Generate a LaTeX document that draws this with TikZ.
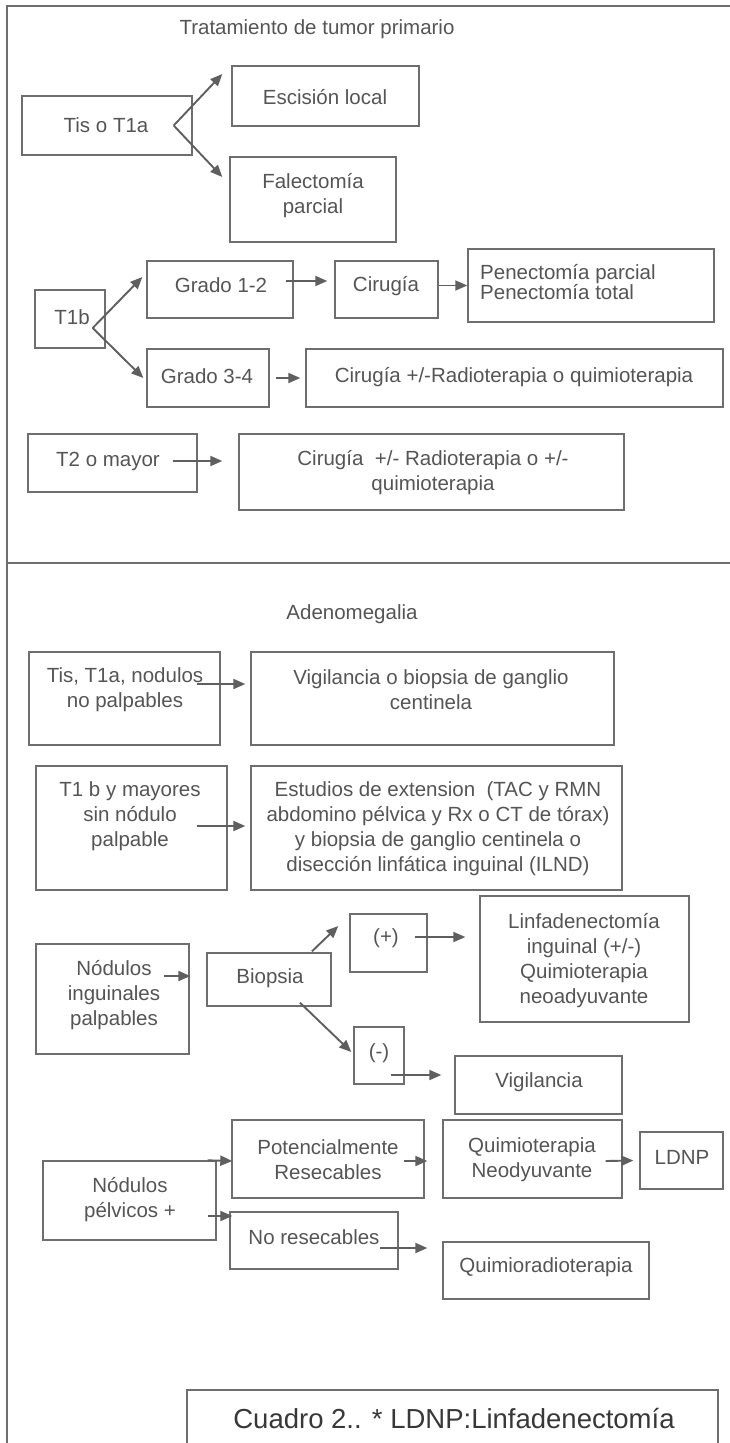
\documentclass[tikz,border=0pt]{standalone}
\usepackage{fontspec}
\setmainfont{Liberation Sans}
\usetikzlibrary{arrows.meta}
\definecolor{lc}{RGB}{110,110,110}
\definecolor{ac}{RGB}{95,95,95}
\definecolor{tc}{RGB}{85,85,85}
\newcommand{\fs}{\fontsize{20.5}{25}\selectfont}
\newcommand{\bx}[5]{\node[box, minimum width={(#4-#2)*1pt}, minimum height={(#5-#3)*1pt}] (#1) at ({(#2+#4)/2},{(#3+#5)/2}) {};}
\begin{document}
\begin{tikzpicture}[x=1pt,y=-1pt,
  box/.style={draw=lc, line width=1.4pt, inner sep=0pt},
  txt/.style={font=\fs, text=tc, align=center, inner sep=0pt},
  arr/.style={draw=ac, line width=1.9pt, -{Triangle[length=12pt,width=10pt]}},
  frameline/.style={draw=lc, line width=1.4pt}]
\useasboundingbox (0,0) rectangle (730,1443);
\clip (0,0) rectangle (730,1443);
\fill[white] (0,0) rectangle (730,1443);
% frame
\draw[frameline] (731,6) -- (7,6) -- (7,1450);
\draw[frameline] (6,563) -- (731,563);
% ---------- section 1 boxes
\bx{tis}{22}{96}{192}{155}
\bx{esc}{232}{66}{419}{126}
\bx{fal}{230}{157}{396}{242}
\bx{tib}{35}{290}{105}{348}
\bx{g12}{147}{261}{293}{318}
\bx{cir}{335}{261}{438}{318}
\bx{pen}{468}{249}{714}{322}
\bx{g34}{147}{349}{269}{407}
\bx{c34}{306}{349}{723}{407}
\bx{t2}{28}{434}{197}{492}
\bx{ct2}{239}{434}{624}{510}
% ---------- section 2 boxes
\bx{tis2}{29}{652}{220}{745}
\bx{vig}{251}{652}{614}{745}
\bx{tb2}{36}{766}{227}{890}
\bx{est}{251}{766}{622}{890}
\bx{plus}{350}{914}{427}{972}
\bx{linf}{480}{896}{689}{1022}
\bx{nip}{36}{944}{189}{1054}
\bx{bio}{207}{953}{331}{1006}
\bx{minus}{354}{1027}{404}{1084}
\bx{vig2}{455}{1056}{622}{1114}
\bx{pot}{232}{1120}{424}{1198}
\bx{qn}{443}{1120}{622}{1198}
\bx{ldnp}{640}{1132}{723}{1189}
\bx{np}{43}{1161}{216}{1240}
\bx{nores}{230}{1212}{398}{1269}
\bx{qr}{443}{1242}{649}{1299}
\bx{cua}{187}{1390}{718}{1470}
% ---------- texts
\node[txt] (title) at (317,29) {Tratamiento de tumor primario};
\node[txt] (tist) at (106,125) {Tis o T1a};
\node[txt] (esct) at (325,97) {Escisión local};
\node[txt] (falt) at (313,195.5) {Falectomía\\parcial};
\node[txt] (tibt) at (72,317) {T1b};
\node[txt] (g12t) at (221,285) {Grado 1-2};
\node[txt] (cirt) at (386,286) {Cirugía};
\node[txt, align=left, anchor=west, font=\fontsize{20.5}{18}\selectfont] (pent) at (480,282) {Penectomía parcial\\Penectomía total};
\node[txt] (g34t) at (207,376) {Grado 3-4};
\node[txt] (c34t) at (514,377) {Cirugía +/-Radioterapia o quimioterapia};
\node[txt] (t2t) at (108,461) {T2 o mayor};
\node[txt] (ct2t) at (433,473) {Cirugía\ \ +/- Radioterapia o +/-\\quimioterapia};
\node[txt] (adt) at (352,614) {Adenomegalia};
\node[txt] (tis2t) at (125,689.5) {Tis, T1a, nodulos\\no palpables};
\node[txt] (vigt) at (431,689.5) {Vigilancia o biopsia de ganglio\\centinela};
\node[txt] (tb2t) at (130,816) {T1 b y mayores\\sin nódulo\\palpable};
\node[txt] (estt) at (438,828.5) {Estudios de extension\ \ (TAC y RMN\\abdomino pélvica y Rx o CT de tórax)\\y biopsia de ganglio centinela o\\disección linfática inguinal (ILND)};
\node[txt] (plust) at (386,938) {(+)};
\node[txt] (linft) at (584,961) {Linfadenectomía\\inguinal (+/-)\\Quimioterapia\\neoadyuvante};
\node[txt] (nipt) at (114,995) {Nódulos\\inguinales\\palpables};
\node[txt] (biot) at (270,978) {Biopsia};
\node[txt] (minust) at (379,1053) {(-)};
\node[txt] (vig2t) at (539,1082) {Vigilancia};
\node[txt] (pott) at (328,1159.5) {Potencialmente\\Resecables};
\node[txt] (qnt) at (532,1159.5) {Quimioterapia\\Neodyuvante};
\node[txt] (ldnpt) at (682,1157) {LDNP};
\node[txt] (npt) at (130,1199.5) {Nódulos\\pélvicos +};
\node[txt] (norest) at (314,1237) {No resecables};
\node[txt] (qrt) at (546,1267) {Quimioradioterapia};
\node[txt, font=\fontsize{27.5}{32}\selectfont, text=black!78] (cuat) at (454,1418) {Cuadro 2.. * LDNP:Linfadenectomía};
% ---------- connectors
\coordinate (v1) at ([xshift=-19pt]tis.east);
\draw[arr] (v1) -- ([xshift=-9pt,yshift=22pt]esc.west);
\draw[arr] (v1) -- ([xshift=-7pt,yshift=22.5pt]fal.west);
\coordinate (v2) at ([xshift=-13pt,yshift=-9pt]tib.east);
\draw[arr] (v2) -- ([xshift=-4pt,yshift=12.5pt]g12.west);
\draw[arr] (v2) -- ([xshift=-3pt]g34.west);
\draw[arr] ([xshift=-8pt,yshift=8.5pt]g12.east) -- ([xshift=-7pt,yshift=8.5pt]cir.west);
\draw[arr] (cir.east |- pen.west) -- (pen.west);
\draw[arr] ([xshift=6pt]g34.east) -- ([xshift=-5pt]c34.west);
\draw[arr] ([xshift=-25pt,yshift=2pt]t2.east) -- ([xshift=-16pt,yshift=11pt]ct2.west);
\draw[arr] ([xshift=-24pt,yshift=14.5pt]tis2.east) -- ([xshift=-5pt,yshift=14.5pt]vig.west);
\draw[arr] ([xshift=-31pt,yshift=2pt]tb2.east) -- ([xshift=-5pt,yshift=2pt]est.west);
\draw[arr] ([xshift=-26pt,yshift=23pt]nip.east) -- ([xshift=-16pt,yshift=3.5pt]bio.west);
\draw[arr] ([xshift=43pt,yshift=1pt]bio.north) -- ([xshift=-11pt,yshift=17pt]plus.west);
\draw[arr] ([xshift=-13pt,yshift=6pt]plus.east) -- ([xshift=-14pt,yshift=22pt]linf.west);
\draw[arr] ([xshift=31pt,yshift=4pt]bio.south) -- ([xshift=-2pt,yshift=3.5pt]minus.west);
\draw[arr] ([xshift=-14pt,yshift=-19.5pt]minus.east) -- ([xshift=-13pt,yshift=10pt]vig2.west);
\draw[arr] ([xshift=-21pt,yshift=-2pt]pot.east) -- ([xshift=-15pt,yshift=-2pt]qn.west);
\draw[arr] ([xshift=-17pt,yshift=-2pt]qn.east) -- ([xshift=-6pt]ldnp.west);
\draw[arr] ([xshift=-9pt]np.north east) -- ([xshift=1pt,yshift=-2pt]pot.west);
\draw[arr] ([xshift=-9pt,yshift=-15.5pt]np.east) -- ([xshift=3pt,yshift=24.5pt]nores.west);
\draw[arr] ([xshift=-19pt,yshift=-7.5pt]nores.east) -- ([xshift=-15pt,yshift=22.5pt]qr.west);
\end{tikzpicture}
\end{document}
